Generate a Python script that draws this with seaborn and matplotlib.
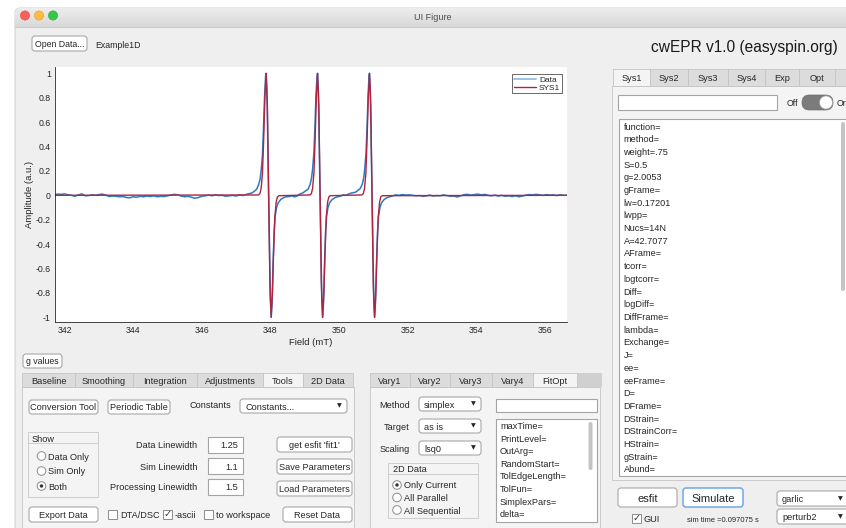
import numpy as np
import matplotlib
matplotlib.use("Agg")
import matplotlib.pyplot as plt
import seaborn as sns
from matplotlib.patches import FancyBboxPatch, Rectangle, Circle
from matplotlib.lines import Line2D

# ---------------- chart data ----------------
data_field = [
    341.7, 341.8, 341.9, 342.0, 342.1, 342.2, 342.3, 342.4, 342.5, 342.6,
    342.7, 342.8, 342.9, 343.0, 343.1, 343.2, 343.3, 343.4, 343.5, 343.6,
    343.7, 343.8, 343.9, 344.0, 344.1, 344.2, 344.3, 344.4, 344.5, 344.6,
    344.7, 344.8, 344.9, 345.0, 345.1, 345.2, 345.3, 345.4, 345.5, 345.6,
    345.7, 345.8, 345.9, 346.0, 346.1, 346.2, 346.3, 346.4, 346.5, 346.6,
    346.7, 346.8, 346.9, 347.0, 347.1, 347.2, 347.3,
    347.35, 347.45, 347.52, 347.60, 347.66, 347.70, 347.73, 347.77, 347.80, 347.83,
    347.86, 347.875, 347.90, 347.93, 347.95, 347.97, 348.00, 348.025, 348.05, 348.08,
    348.11, 348.14, 348.18, 348.23, 348.30, 348.38, 348.46,
    348.55, 348.62, 348.70, 348.78,
    348.85, 348.95, 349.02, 349.10, 349.16, 349.20, 349.23, 349.27, 349.30, 349.33,
    349.36, 349.375, 349.40, 349.43, 349.45, 349.47, 349.50, 349.525, 349.55, 349.58,
    349.61, 349.64, 349.68, 349.73, 349.80, 349.88, 349.96,
    350.05, 350.13, 350.21, 350.29,
    350.38, 350.48, 350.55, 350.62, 350.68, 350.72, 350.75, 350.79, 350.82, 350.85,
    350.875, 350.89, 350.915, 350.945, 350.965, 350.985, 351.015, 351.04, 351.065, 351.095,
    351.125, 351.155, 351.195, 351.245, 351.315, 351.395, 351.475,
    351.55, 351.65, 351.75, 351.85, 351.95, 352.05, 352.15, 352.25, 352.35, 352.45,
    352.55, 352.65, 352.75, 352.85, 352.95, 353.05, 353.15, 353.25, 353.35, 353.45,
    353.55, 353.65, 353.75, 353.85, 353.95, 354.05, 354.15, 354.25, 354.35, 354.45,
    354.55, 354.65, 354.75, 354.85, 354.95, 355.05, 355.15, 355.25, 355.35, 355.45,
    355.55, 355.65, 355.75, 355.85, 355.95, 356.05, 356.15, 356.25, 356.35, 356.45,
    356.55, 356.65,
]
data_amp = [
    0.005, 0.010, 0.008, 0.012, 0.004, 0.000, -0.008, 0.003, 0.012, -0.004,
    -0.002, 0.004, 0.000, 0.006, 0.010, 0.002, -0.010, -0.006, -0.008, -0.012,
    -0.010, -0.018, -0.020, -0.012, -0.016, -0.008, -0.012, -0.006, -0.010, -0.004,
    -0.012, -0.008, -0.010, -0.004, 0.002, 0.008, 0.004, -0.006, -0.012, -0.008,
    -0.016, -0.024, -0.018, -0.008, -0.004, 0.002, -0.004, 0.004, -0.002, 0.000,
    -0.008, -0.004, 0.000, -0.006, 0.004, -0.002, 0.008,
    0.012, 0.018, 0.030, 0.050, 0.090, 0.130, 0.200, 0.330, 0.550, 0.800,
    0.970, 1.000, 0.860, 0.350, 0.000, -0.350, -0.850, -1.000, -0.880, -0.550,
    -0.300, -0.170, -0.100, -0.060, -0.035, -0.020, -0.012,
    -0.010, -0.004, -0.012, -0.006,
    0.010, 0.020, 0.035, 0.050, 0.090, 0.140, 0.210, 0.350, 0.560, 0.820,
    0.970, 1.000, 0.850, 0.350, 0.000, -0.360, -0.860, -1.000, -0.880, -0.560,
    -0.300, -0.170, -0.100, -0.060, -0.035, -0.020, -0.012,
    -0.006, 0.004, 0.000, 0.012,
    0.020, 0.025, 0.040, 0.055, 0.090, 0.140, 0.210, 0.350, 0.560, 0.820,
    0.970, 1.000, 0.850, 0.350, 0.000, -0.360, -0.860, -1.000, -0.880, -0.560,
    -0.300, -0.170, -0.100, -0.060, -0.035, -0.020, -0.012,
    -0.006, 0.004, 0.000, 0.006, 0.002, 0.004, 0.000, -0.004, -0.002, -0.008,
    -0.004, 0.002, -0.006, -0.002, -0.004, 0.004, -0.002, -0.008, -0.006, -0.014,
    -0.004, 0.006, 0.008, 0.002, 0.006, 0.010, 0.004, 0.008, 0.000, -0.004,
    0.002, -0.006, 0.000, -0.008, -0.004, -0.010, -0.004, -0.012, -0.006, 0.002,
    0.006, 0.004, 0.008, 0.004, 0.000, 0.006, 0.002, 0.004, -0.002, 0.004,
    0.000, 0.002,
]
sim_field = [
    341.70,
    347.65, 347.695, 347.73, 347.77, 347.804, 347.84, 347.877, 347.914, 347.95,
    347.987, 348.023, 348.06, 348.096, 348.13, 348.17, 348.205, 348.25,
    349.15, 349.195, 349.23, 349.27, 349.304, 349.34, 349.377, 349.414, 349.45,
    349.487, 349.523, 349.56, 349.596, 349.63, 349.67, 349.705, 349.75,
    350.665, 350.71, 350.745, 350.785, 350.819, 350.855, 350.892, 350.929, 350.965,
    351.002, 351.038, 351.075, 351.111, 351.145, 351.185, 351.22, 351.265,
    356.65,
]
sim_amp = [
    0.0,
    0.003, 0.013, 0.055, 0.18, 0.45, 0.80, 1.0, 0.73, 0.0,
    -0.73, -1.0, -0.80, -0.45, -0.18, -0.055, -0.013, -0.003,
    0.003, 0.013, 0.055, 0.18, 0.45, 0.80, 1.0, 0.73, 0.0,
    -0.73, -1.0, -0.80, -0.45, -0.18, -0.055, -0.013, -0.003,
    0.003, 0.013, 0.055, 0.18, 0.45, 0.80, 1.0, 0.73, 0.0,
    -0.73, -1.0, -0.80, -0.45, -0.18, -0.055, -0.013, -0.003,
    0.0,
]
x_ticks = [342, 344, 346, 348, 350, 352, 354, 356]
y_ticks = [-1, -0.8, -0.6, -0.4, -0.2, 0, 0.2, 0.4, 0.6, 0.8, 1]
y_tick_labels = ["-1", "-0.8", "-0.6", "-0.4", "-0.2", "0", "0.2", "0.4", "0.6", "0.8", "1"]
series_names = ["Data", "SYS1"]

sys1_fields = ["function=", "method=", "weight=.75", "S=0.5", "g=2.0053", "gFrame=",
               "lw=0.17201", "lwpp=", "Nucs=14N", "A=42.7077", "AFrame=", "tcorr=",
               "logtcorr=", "Diff=", "logDiff=", "DiffFrame=", "lambda=", "Exchange=",
               "J=", "ee=", "eeFrame=", "D=", "DFrame=", "DStrain=", "DStrainCorr=",
               "HStrain=", "gStrain=", "Abund="]
fitopt_fields = ["maxTime=", "PrintLevel=", "OutArg=", "RandomStart=", "TolEdgeLength=",
                 "TolFun=", "SimplexPars=", "delta="]

# ---------------- style ----------------
sns.set_style("white")
plt.rcParams['font.family'] = ['Liberation Sans', 'DejaVu Sans']

W, H = 846, 528
fig = plt.figure(figsize=(W / 100, H / 100), dpi=100, facecolor="white")
bg = fig.add_axes([0, 0, 1, 1])
bg.set_xlim(0, W)
bg.set_ylim(H, 0)
bg.axis("off")

TXT = "#262626"
BORDER = "#B4B4B4"
WIN = "#EFEFEF"
BODY = "#F4F4F4"
TABOFF = "#DCDCDC"
FS = 6.6


def rrect(x0, y0, x1, y1, fc="white", ec=BORDER, lw=0.8, r=3, z=2):
    if r <= 0:
        p = Rectangle((x0, y0), x1 - x0, y1 - y0, fc=fc, ec=ec, lw=lw, zorder=z)
    else:
        p = FancyBboxPatch((x0 + r, y0 + r), max(x1 - x0 - 2 * r, 0.01), max(y1 - y0 - 2 * r, 0.01),
                           boxstyle=f"round,pad={r}", fc=fc, ec=ec, lw=lw, zorder=z)
    bg.add_patch(p)
    return p


def txt(x, y, s, size=FS, ha="left", va="center_baseline", color=TXT, z=5, **kw):
    return bg.text(x, y, s, fontsize=size, ha=ha, va=va, color=color, zorder=z, **kw)


def button(x0, y0, x1, y1, label, size=FS, ec="#A8A8A8", lw=0.8):
    rrect(x0, y0, x1, y1, fc="white", ec=ec, lw=lw, r=3)
    txt((x0 + x1) / 2, (y0 + y1) / 2, label, size=size, ha="center")


def dropdown(x0, y0, x1, y1, label, arrow_x=None):
    rrect(x0, y0, x1, y1, fc="white", ec="#A8A8A8", r=3)
    txt(x0 + 5, (y0 + y1) / 2, label)
    ax_ = arrow_x if arrow_x is not None else x1 - 8
    txt(ax_, (y0 + y1) / 2, "\u25BC", size=4.5, ha="center", va="center", family=["DejaVu Sans"])


def edit(x0, y0, x1, y1, label="", ha="right"):
    rrect(x0, y0, x1, y1, fc="white", ec="#A4A4A4", lw=0.8, r=0)
    if label:
        txt(x1 - 5 if ha == "right" else x0 + 4, (y0 + y1) / 2, label, ha=ha)


def radio(x, y, label, selected=False):
    bg.add_patch(Circle((x, y), 4.3, fc="white", ec="#8C8C8C", lw=0.7, zorder=3))
    if selected:
        bg.add_patch(Circle((x, y), 1.7, fc="#333333", ec="none", zorder=4))
    txt(x + 7, y, label)


def checkbox(x, y, label, checked=False):
    bg.add_patch(Rectangle((x, y - 4.5), 9, 9, fc="white", ec="#8C8C8C", lw=0.7, zorder=3))
    if checked:
        txt(x + 4.5, y, "\u2713", size=7, ha="center", va="center",
            family=["DejaVu Sans"], color="#333333")
    txt(x + 12, y, label)


def tabs(items, y0, y1, selected):
    for lab, xa, xb in items:
        fc = BODY if lab == selected else TABOFF
        rrect(xa, y0, xb, y1, fc=fc, ec="#C4C4C4", lw=0.6, r=0, z=3)
        if lab:
            txt((xa + xb) / 2, (y0 + y1) / 2, lab, ha="center", z=6)


# ---------------- window frame ----------------
win = rrect(15, 8, 860, 560, fc=WIN, ec="#C8C8C8", lw=0.6, r=5, z=0)
grad = np.linspace(0.93, 0.85, 30)[:, None] * np.ones((30, 2))
im = bg.imshow(np.dstack([grad, grad, grad]), extent=(15, 860, 27, 8), aspect="auto", zorder=0.5)
im.set_clip_path(win)
bg.set_xlim(0, W)
bg.set_ylim(H, 0)
bg.plot([15, W], [27, 27], color="#C0C0C0", lw=0.6, zorder=1)
for cx, col, ec in [(25, "#FC605C", "#DE4A44"), (39, "#FDBC40", "#DEA123"), (53, "#34C84A", "#27AA35")]:
    bg.add_patch(Circle((cx, 15.5), 4.6, fc=col, ec=ec, lw=0.4, zorder=2))
txt(433, 16, "UI Figure", size=6.5, ha="center", color="#4D4D4D")

# top row
button(32, 36, 87, 51, "Open Data...", size=6.3)
txt(95, 44, "Example1D", size=6.3)
txt(838, 46, "cwEPR v1.0 (easyspin.org)", size=11.2, ha="right", color="#1A1A1A")

# ---------------- spectrum axes ----------------
ax = fig.add_axes([55 / W, 1 - 322 / H, 512 / W, 255 / H])
ax.set_facecolor("white")
sns.lineplot(x=data_field, y=data_amp, ax=ax, color="#2C7BC0", lw=1.1,
             sort=False, estimator=None, legend=False)
sns.lineplot(x=sim_field, y=sim_amp, ax=ax, color="#B0243F", lw=1.0,
             sort=False, estimator=None, legend=False)
ax.set_xlim(341.72, 356.65)
ax.set_ylim(-1.0385, 1.052)
ax.set_xticks(x_ticks)
ax.set_xticklabels([str(t) for t in x_ticks])
ax.set_yticks(y_ticks)
ax.set_yticklabels(y_tick_labels)
ax.tick_params(direction="in", length=3.5, width=0.6, colors=TXT, labelsize=6.3, pad=3)
for s in ["top", "right"]:
    ax.spines[s].set_visible(False)
for s in ["left", "bottom"]:
    ax.spines[s].set_color(TXT)
    ax.spines[s].set_linewidth(0.6)
ax.set_xlabel("Field (mT)", fontsize=6.8, color=TXT, labelpad=2)
ax.set_ylabel("Amplitude (a.u.)", fontsize=6.8, color=TXT, labelpad=1)
handles = [Line2D([], [], color="#8DBFE6", lw=1.3), Line2D([], [], color="#B0243F", lw=1.0)]
leg = ax.legend(handles, series_names, loc="upper right", bbox_to_anchor=(0.990, 0.9725),
                borderaxespad=0, fontsize=6, frameon=True, fancybox=False, edgecolor=TXT,
                handlelength=2.7, handletextpad=0.35, borderpad=0.2, labelspacing=0.05)
leg.get_frame().set_linewidth(0.6)

button(23, 354, 62, 368, "g values", size=6.3)

# ---------------- left tab panel ----------------
rrect(22, 387, 354, 540, fc=BODY, ec="#C4C4C4", lw=0.6, r=0, z=1)
tabs([("Baseline", 22, 75), ("Smoothing", 75, 133), ("Integration", 133, 197),
      ("Adjustments", 197, 263), ("Tools", 263, 303), ("2D Data", 303, 353)], 373, 387, "Tools")
button(29, 400, 98, 414, "Conversion Tool")
button(108, 400, 170, 414, "Periodic Table")
txt(190, 404, "Constants")
dropdown(240, 399, 347, 413, "Constants...")
rrect(28, 432, 98, 497, fc=BODY, ec="#C8C8C8", lw=0.6, r=0, z=2)
bg.plot([28, 98], [443, 443], color="#C8C8C8", lw=0.6, zorder=3)
txt(32, 438, "Show")
radio(41.5, 456, "Data Only")
radio(41.5, 471, "Sim Only")
radio(41.5, 486, "Both", selected=True)
for yy, lab, val in [(445, "Data Linewidth", "1.25"), (466, "Sim Linewidth", "1.1"),
                     (487, "Processing Linewidth", "1.5")]:
    txt(197, yy, lab, ha="right")
    edit(208, yy - 8, 243, yy + 8, val)
button(277, 437, 352, 452, "get esfit 'fit1'")
button(277, 459, 352, 474, "Save Parameters")
button(277, 481, 352, 496, "Load Parameters")
button(29, 507, 98, 522, "Export Data")
checkbox(108, 514, "DTA/DSC")
checkbox(163, 514, "-ascii", checked=True)
checkbox(204, 514, "to workspace")
button(283, 507, 352, 522, "Reset Data")

# ---------------- middle tab panel ----------------
rrect(370, 387, 600, 540, fc=BODY, ec="#C4C4C4", lw=0.6, r=0, z=1)
rrect(577, 373, 602, 387, fc="#D0D0D0", ec="none", lw=0, r=0, z=2)
tabs([("Vary1", 370, 410), ("Vary2", 410, 450), ("Vary3", 450, 492),
      ("Vary4", 492, 533), ("FitOpt", 533, 577)], 373, 387, "FitOpt")
for yy, lab, val in [(404, "Method", "simplex"), (426, "Target", "as is"), (448, "Scaling", "lsq0")]:
    txt(410, yy, lab, ha="right")
    dropdown(419, yy - 7, 481, yy + 7, val)
edit(496, 399, 597, 412)
edit(496, 419, 597, 522)
for i, s in enumerate(fitopt_fields):
    txt(500, 425.5 + i * 12.6, s)
rrect(588.5, 422, 592.5, 470, fc="#C4C4C4", ec="none", lw=0, r=2, z=4)
rrect(388, 463, 478, 518, fc=BODY, ec="#C8C8C8", lw=0.6, r=0, z=2)
bg.plot([388, 478], [474, 474], color="#C8C8C8", lw=0.6, zorder=3)
txt(393, 468.5, "2D Data")
radio(397, 485, "Only Current", selected=True)
radio(397, 497.5, "All Parallel")
radio(397, 510, "All Sequential")

# ---------------- right tab panel ----------------
rrect(612, 86, 860, 480, fc=BODY, ec="#C4C4C4", lw=0.6, r=0, z=1)
tabs([("Sys1", 613, 650), ("Sys2", 650, 688), ("Sys3", 688, 728), ("Sys4", 728, 765),
      ("Exp", 765, 799), ("Opt", 799, 835), ("", 835, 860)], 69, 86, "Sys1")
edit(618, 95, 777, 110)
txt(792, 102.5, "Off", ha="center", size=6.3)
rrect(802, 95, 833, 110, fc="#7B7B7B", ec="#6E6E6E", lw=0.5, r=7.4, z=3)
bg.add_patch(Circle((826, 102.5), 6.6, fc="white", ec="#9A9A9A", lw=0.5, zorder=4))
txt(837, 102.5, "On", size=6.3)
edit(619, 119, 860, 476)
for i, s in enumerate(sys1_fields):
    txt(623.5, 126 + i * 12.7, s)
rrect(841, 122, 845, 291, fc="#C4C4C4", ec="none", lw=0, r=2, z=4)

button(618, 488, 677, 507, "esfit", size=8)
button(683, 488, 743, 507, "Simulate", size=8, ec="#6FA6EC", lw=1.1)
dropdown(777, 491, 856, 506, "garlic", arrow_x=840)
dropdown(777, 509, 856, 524, "perturb2", arrow_x=840)
checkbox(632, 518, "GUI", checked=True)
txt(687, 519, "sim time =0.097075 s", size=5.4)

fig.savefig("out.png", dpi=100, facecolor="white")
